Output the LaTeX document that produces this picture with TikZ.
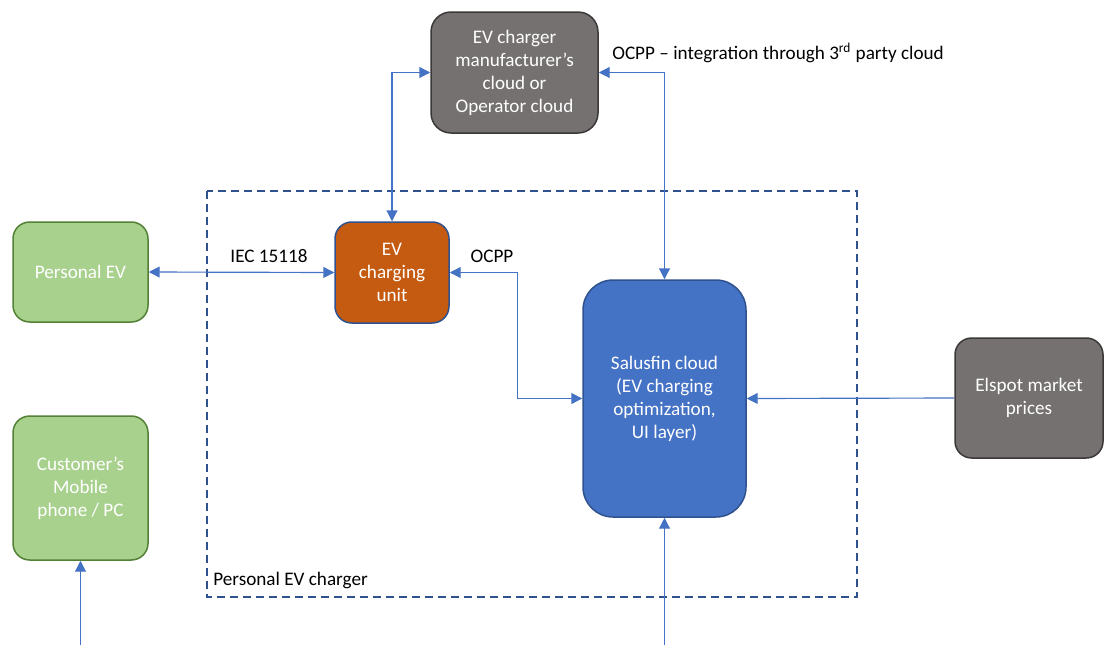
\documentclass[tikz,border=0pt]{standalone}
\usepackage{fontspec}
\setmainfont{Carlito}
\usetikzlibrary{arrows.meta,calc}
\definecolor{grayfill}{HTML}{767171}
\definecolor{graybord}{HTML}{3B3838}
\definecolor{greenfill}{HTML}{A9D18E}
\definecolor{greenbord}{HTML}{538135}
\definecolor{orangefill}{HTML}{C55A11}
\definecolor{bluefill}{HTML}{4472C4}
\definecolor{bluebord}{HTML}{2F528F}
\definecolor{linkc}{HTML}{4472C4}
\begin{document}
\begin{tikzpicture}[x=0.6pt,y=-0.6pt,
  every node/.style={font=\fontsize{11.5}{13.8}\selectfont},
  box/.style={draw, line width=0.9pt, rounded corners=10pt, align=center, text=white, inner sep=0pt},
  graybox/.style={box, fill=grayfill, draw=graybord},
  greenbox/.style={box, fill=greenfill, draw=greenbord},
  orangebox/.style={box, fill=orangefill, draw=bluebord},
  bluebox/.style={box, fill=bluefill, draw=bluebord, rounded corners=18pt},
  link/.style={draw=linkc, line width=0.7pt, -{Triangle[length=6.5pt,width=6.5pt]}},
  dlink/.style={link, {Triangle[length=6.5pt,width=6.5pt]}-{Triangle[length=6.5pt,width=6.5pt]}},
  lbl/.style={text=black, inner sep=0pt},
  frame/.style={draw=bluebord, line width=1.2pt, dash pattern=on 4.8pt off 3pt}
]
\useasboundingbox (0,0) rectangle (1104,645);

% dashed frame
\draw[frame] (207,191) rectangle (857,597);
\node[lbl, anchor=west] (framelbl) at (213,580) {Personal EV charger};

% nodes
\node[graybox, rounded corners=12pt, minimum width=100.2pt, minimum height=72.6pt] (top) at (514.5,72.5)
  {EV charger\\manufacturer’s\\cloud or\\Operator cloud};
\node[orangebox, minimum width=68.4pt, minimum height=60.6pt] (evcu) at (392,272.5)
  {EV\\charging\\unit};
\node[greenbox, minimum width=81pt, minimum height=60pt] (pev) at (80.5,272)
  {Personal EV};
\node[bluebox, minimum width=97.8pt, minimum height=142.2pt] (sal) at (664.5,398.5)
  {Salusfin cloud\\(EV charging\\optimization,\\UI layer)};
\node[graybox, minimum width=88.8pt, minimum height=72pt] (els) at (1029,398)
  {Elspot market\\prices};
\node[greenbox, minimum width=81pt, minimum height=86.4pt] (cust) at (80.5,488)
  {Customer’s\\Mobile\\phone / PC};

\coordinate (cb) at (80.5,645);
\coordinate (sb) at (664.5,645);

% connectors
\draw[dlink] (top.west) -| (evcu.north);
\draw[dlink] (top.east) -| (sal.north);
\draw[dlink] (pev.east) -- (evcu.west);
\draw[dlink] (evcu.east) -- ++(68,0) |- (sal.west);
\draw[link] (els.west) -- (sal.east);
\draw[link] (cb) -- (cust.south);
\draw[link] (sb) -- (sal.south);

% labels
\node[lbl, anchor=west] (toplbl) at (612,53) {OCPP – integration through 3\textsuperscript{rd} party cloud};
\node[lbl] (ieclbl) at (269,256) {IEC 15118};
\node[lbl] (ocpplbl) at (492,256) {OCPP};
\end{tikzpicture}
\end{document}
